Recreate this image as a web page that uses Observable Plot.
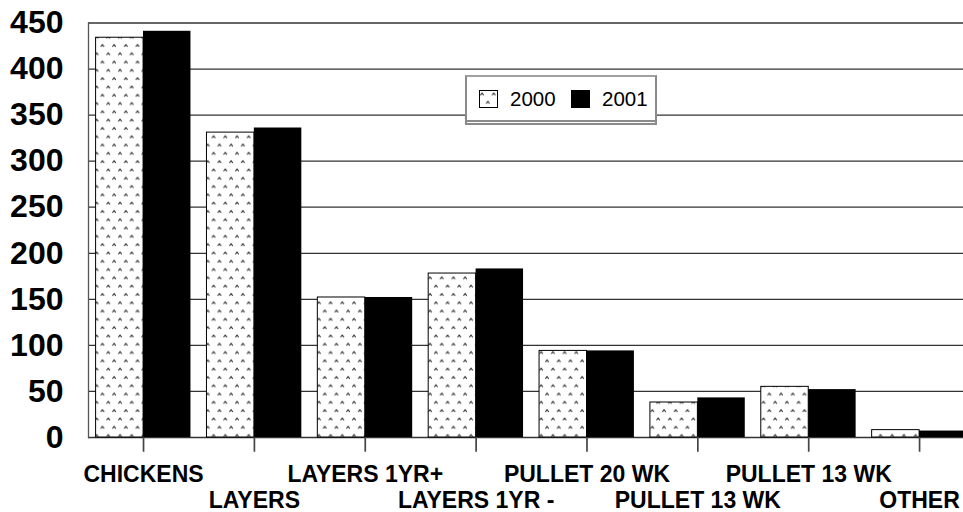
<!DOCTYPE html>
<html>
<head>
<meta charset="utf-8">
<script src="https://cdn.jsdelivr.net/npm/d3@7"></script>
<script src="https://cdn.jsdelivr.net/npm/@observablehq/plot@0.6"></script>
<style>
  html, body { margin: 0; padding: 0; background: #fff; }
  #wrap { position: relative; width: 963px; height: 512px; overflow: hidden; font-family: "Liberation Sans", Arial, sans-serif; }
  #legend {
    position: absolute; left: 465px; top: 75px; width: 192px; height: 50px;
    background: #fff; border: 2px solid #8a8a8a; border-top-color: #a0a0a0; box-sizing: border-box;
  }
  #legend .inner { position: absolute; left: 0; right: 0; top: 0; height: 43px; border-bottom: 2px solid #8a8a8a; }
  #legend .item { position: absolute; top: 11px; font-size: 20.5px; line-height: 22px; color: #000; display: flex; align-items: center; }
  #legend svg { display: block; margin-right: 12px; }
</style>
</head>
<body>
<div id="wrap">
  <div id="chart"></div>
  <div id="legend"><div class="inner"></div></div>
</div>
<script>
const categories = ["CHICKENS", "LAYERS", "LAYERS 1YR+", "LAYERS 1YR -", "PULLET 20 WK", "PULLET 13 WK", "PULLET 13 WK", "OTHER"];
const values2000 = [434, 331, 152, 178, 94, 38, 55, 8];
const values2001 = [441, 336, 152, 183, 94, 43, 52, 7];
const yTicks = [0, 50, 100, 150, 200, 250, 300, 350, 400, 450];
const seriesNames = ["2000", "2001"];

const rows = categories.map((c, i) => ({i, cat: c, v2000: values2000[i], v2001: values2001[i]}));
const idx = categories.map((c, i) => i);
const evens = idx.filter(i => i % 2 === 0);
const odds = idx.filter(i => i % 2 === 1);
const fmt = i => categories[i];

const font = "Liberation Sans, Arial, sans-serif";

const plot = Plot.plot({
  width: 963,
  height: 512,
  marginLeft: 88,
  marginRight: 0,
  marginTop: 22.5,
  marginBottom: 75,
  style: {fontFamily: font, color: "#000", background: "#fff", overflow: "visible"},
  x: {domain: idx, range: [87.6, 974.5], padding: 0, round: false, label: null},
  y: {domain: [0, 450], ticks: yTicks, label: null},
  marks: [
    Plot.ruleY(yTicks, {stroke: "#333", strokeWidth: 1.3}),
    Plot.frame({anchor: "left", stroke: "#555", strokeWidth: 1.3}),
    Plot.barY(rows, {x: "i", y: "v2000", fill: "url(#dots)", stroke: "#000", strokeWidth: 1, insetLeft: 8, insetRight: 55.4}),
    Plot.barY(rows, {x: "i", y: "v2001", fill: "#000", insetLeft: 55.4, insetRight: 8}),
    Plot.axisY({ticks: yTicks, label: null, tickSize: 0, tickPadding: 25, fontSize: 32, fontWeight: "bold", tickFormat: d => d}),
    // category tick marks hanging below the baseline
    Plot.ruleX(idx, {x: d => d, y1: 0, y2: -16, stroke: "#444", strokeWidth: 1.7}),
    Plot.axisX({ticks: evens, label: null, anchor: "bottom", tickSize: 0, tickPadding: 28.5, fontSize: 23, fontWeight: "bold", tickFormat: fmt}),
    Plot.axisX({ticks: odds, label: null, anchor: "bottom", tickSize: 0, tickPadding: 54.5, fontSize: 23, fontWeight: "bold", tickFormat: fmt})
  ]
});

// caret pattern for the 2000 series
const svg = d3.select(plot);
const defs = svg.insert("defs", ":first-child");
const pat = defs.append("pattern")
  .attr("id", "dots").attr("patternUnits", "userSpaceOnUse")
  .attr("width", 11.7).attr("height", 16.6);
pat.append("rect").attr("width", 11.7).attr("height", 16.6).attr("fill", "#fff");
[[3, 4], [8.85, 12.3]].forEach(([cx, cy]) => {
  pat.append("path")
    .attr("d", `M${cx - 1.6},${cy + 1.2} L${cx},${cy - 1} L${cx + 1.6},${cy + 1.2}`)
    .attr("fill", "none").attr("stroke", "#222").attr("stroke-width", 1);
});

document.getElementById("chart").appendChild(plot);

// legend
const legend = document.getElementById("legend");
const swatchLeft = [12, 104];
seriesNames.forEach((name, k) => {
  const item = document.createElement("div");
  item.className = "item";
  item.style.left = swatchLeft[k] + "px";
  const sw = d3.create("svg").attr("width", 19).attr("height", 18);
  sw.append("rect").attr("x", 0.5).attr("y", 0.5).attr("width", 18).attr("height", 17)
    .attr("fill", k === 0 ? "url(#dots)" : "#000").attr("stroke", "#000").attr("stroke-width", 1);
  item.appendChild(sw.node());
  const t = document.createElement("span");
  t.textContent = name;
  item.appendChild(t);
  legend.appendChild(item);
});
</script>
</body>
</html>
